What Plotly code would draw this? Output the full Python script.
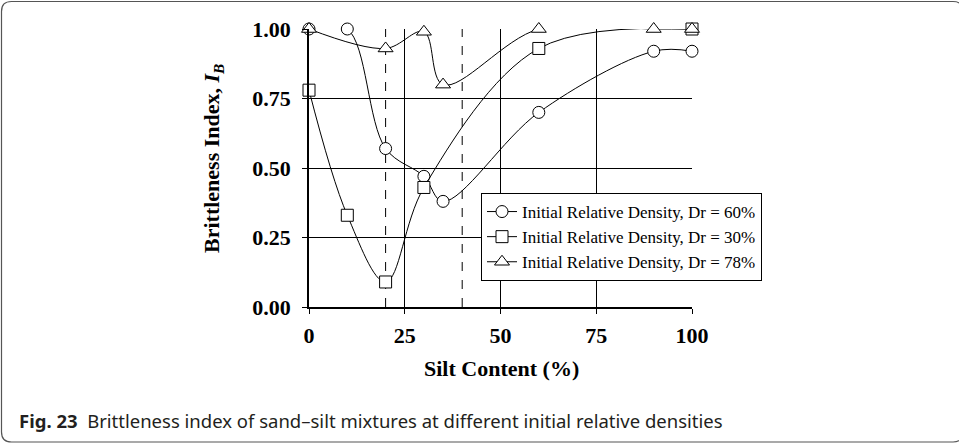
import plotly.graph_objects as go

# Silt content (%) and brittleness index I_B for each initial relative density
silt_60 = [0, 10, 20, 30, 35, 60, 90, 100]
ib_60 = [1.00, 1.00, 0.57, 0.47, 0.38, 0.70, 0.92, 0.92]

silt_30 = [0, 10, 20, 30, 60, 100]
ib_30 = [0.78, 0.33, 0.09, 0.43, 0.93, 1.00]

silt_78 = [0, 20, 30, 35, 60, 90, 100]
ib_78 = [1.00, 0.93, 0.99, 0.80, 1.00, 1.00, 1.00]

x_ticks = [0, 25, 50, 75, 100]
y_ticks = [0.00, 0.25, 0.50, 0.75, 1.00]
marker_lines = [20, 40]

series = [
    ("Initial Relative Density, Dr = 60%", silt_60, ib_60, "circle", 12),
    ("Initial Relative Density, Dr = 30%", silt_30, ib_30, "square", 12),
    ("Initial Relative Density, Dr = 78%", silt_78, ib_78, "triangle-up", 13),
]

W, H = 959, 444
L, R, T, B = 309, 267, 29, 137
pw, ph = W - L - R, H - T - B


def px_x(px):
    return (px - L) / pw


def px_y(py):
    return (H - B - py) / ph


fig = go.Figure()

for name, xs, ys, sym, sz in series:
    fig.add_trace(go.Scatter(
        x=xs, y=ys, name=name, mode="lines+markers",
        line=dict(color="black", width=1, shape="spline", smoothing=1.0),
        marker=dict(symbol=sym, size=sz, color="white",
                    line=dict(color="black", width=1)),
        cliponaxis=False,
    ))

for xv in marker_lines:
    fig.add_shape(type="line", x0=xv, x1=xv, y0=0, y1=1, xref="x", yref="y",
                  line=dict(color="black", width=1, dash="dash"), layer="below")

# rounded outer frame
x0, x1 = px_x(1.5), px_x(963)
y0, y1 = px_y(1.5), px_y(442)
rx, ry = 10 / pw, 10 / ph
path = (f"M {x0 + rx},{y0} L {x1 - rx},{y0} Q {x1},{y0} {x1},{y0 - ry} "
        f"L {x1},{y1 + ry} Q {x1},{y1} {x1 - rx},{y1} "
        f"L {x0 + rx},{y1} Q {x0},{y1} {x0},{y1 + ry} "
        f"L {x0},{y0 - ry} Q {x0},{y0} {x0 + rx},{y0} Z")
fig.add_shape(type="path", path=path, xref="paper", yref="paper",
              line=dict(color="#555555", width=1.2))

fig.add_annotation(
    x=px_x(17), y=px_y(420), xref="paper", yref="paper", xanchor="left", yanchor="middle",
    showarrow=False,
    text="<b>Fig. 23</b>  Brittleness index of sand\u2013silt mixtures at different initial relative densities",
    font=dict(family="Noto Sans", size=18.5, color="#231f20"),
)

axis_font = dict(family="Liberation Serif", size=22, color="black")

# axis titles
fig.add_annotation(
    x=px_x(501), y=px_y(368), xref="paper", yref="paper", xanchor="center", yanchor="middle",
    showarrow=False, text="<b>Silt Content (%)</b>", font=axis_font,
)
fig.add_annotation(
    x=px_x(213), y=px_y(159), xref="paper", yref="paper", xanchor="center", yanchor="middle",
    showarrow=False, textangle=-90,
    text="<b>Brittleness Index, <i>I</i><sub><i>B</i></sub></b>", font=axis_font,
)

fig.update_xaxes(
    range=[0, 100], tickvals=x_ticks, ticktext=[f"<b>{v}</b>" for v in x_ticks],
    showgrid=True, gridcolor="black", gridwidth=1,
    showline=True, linecolor="black", linewidth=1.5,
    ticks="outside", ticklen=5, tickcolor="black",
    tickfont=axis_font, zeroline=False, ticklabelstandoff=3,
)
fig.update_yaxes(
    range=[0, 1], tickvals=y_ticks, ticktext=[f"<b>{v:.2f}</b>" for v in y_ticks],
    showgrid=True, gridcolor="black", gridwidth=1,
    showline=True, linecolor="black", linewidth=1.5,
    ticks="outside", ticklen=5, tickcolor="black",
    tickfont=axis_font, zeroline=False, ticklabelstandoff=7,
)

fig.update_layout(
    width=W, height=H,
    margin=dict(l=L, r=R, t=T, b=B),
    paper_bgcolor="white", plot_bgcolor="white",
    showlegend=True,
    legend=dict(
        x=px_x(481), y=px_y(193), xanchor="left", yanchor="top",
        bgcolor="white", bordercolor="black", borderwidth=1,
        font=dict(family="Liberation Serif", size=17, color="black"),
        itemwidth=30, tracegroupgap=4,
    ),
)

fig.write_html("out.html")
